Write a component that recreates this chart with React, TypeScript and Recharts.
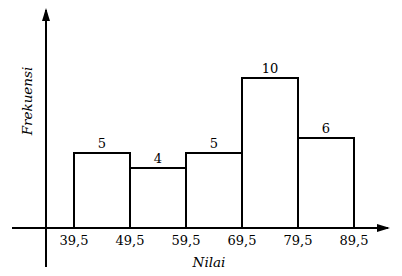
import { BarChart, Bar, XAxis, YAxis, ReferenceLine, LabelList, Label } from 'recharts';

// batas kelas (tepi bawah / atas) dan frekuensi tiap kelas
const boundaries = [39.5, 49.5, 59.5, 69.5, 79.5, 89.5];
const frequencies = [5, 4, 5, 10, 6];

const data = frequencies.map((f, i) => ({
  kelas: `${boundaries[i]}-${boundaries[i + 1]}`,
  tengah: (boundaries[i] + boundaries[i + 1]) / 2,
  frekuensi: f,
}));

const FONT = 'DejaVu Serif';
const fmt = (v: number) => String(v).replace('.', ',');

// judul sumbu tegak, digeser sedikit ke atas seperti gambar asli
const FrekuensiLabel = (props: any) => {
  const vb = props.viewBox || {};
  const x = vb.x + vb.width / 2 + 4;
  const y = vb.y + vb.height / 2 - 18;
  return (
    <text
      x={x}
      y={y}
      transform={`rotate(-90, ${x}, ${y})`}
      textAnchor="middle"
      dominantBaseline="central"
      fill="#000"
      fontSize={13.5}
      fontFamily={FONT}
      fontStyle="italic"
    >
      Frekuensi
    </text>
  );
};

export default function App() {
  return (
    <div style={{ width: 402, height: 276, background: '#fff' }}>
      <style>{`body{margin:0}`}</style>
      <BarChart
        width={402}
        height={276}
        data={data}
        barCategoryGap={0}
        margin={{ top: 10, right: 14, bottom: 0, left: 0 }}
      >
        <defs>
          <marker
            id="arrow"
            viewBox="0 0 13 8"
            refX={11}
            refY={4}
            markerWidth={13}
            markerHeight={8}
            markerUnits="userSpaceOnUse"
            orient="auto"
          >
            <path d="M0,0 L13,4 L0,8 z" fill="#000" />
          </marker>
        </defs>
        <XAxis
          xAxisId="cat"
          dataKey="kelas"
          hide
          height={0}
          orientation="top"
          padding={{ left: 28, right: 34 }}
        />
        <XAxis
          xAxisId="num"
          dataKey="tengah"
          type="number"
          domain={[34.5, 95.57]}
          allowDataOverflow
          ticks={boundaries}
          interval={0}
          tickFormatter={fmt}
          axisLine={false}
          tickLine={false}
          height={48}
          tick={{ fill: '#000', fontSize: 13, fontFamily: FONT }}
          label={{
            value: 'Nilai',
            position: 'insideBottom',
            offset: 9,
            dx: -8,
            fill: '#000',
            fontSize: 13.5,
            fontFamily: FONT,
            fontStyle: 'italic',
          }}
        />
        <YAxis
          domain={[0, 218 / 15]}
          allowDataOverflow
          width={46}
          axisLine={false}
          tickLine={false}
          tick={false}
        >
          <Label content={FrekuensiLabel} />
        </YAxis>
        <Bar
          xAxisId="cat"
          dataKey="frekuensi"
          fill="#fff"
          stroke="#000"
          strokeWidth={2}
          isAnimationActive={false}
        >
          <LabelList
            dataKey="frekuensi"
            position="top"
            offset={5}
            fill="#000"
            fontSize={13}
            fontFamily={FONT}
          />
        </Bar>
        <ReferenceLine
          xAxisId="num"
          segment={[
            { x: 28.43, y: 0 },
            { x: 95.57, y: 0 },
          ]}
          ifOverflow="visible"
          stroke="#000"
          strokeWidth={2}
          markerEnd="url(#arrow)"
        />
        <ReferenceLine
          xAxisId="num"
          segment={[
            { x: 34.5, y: -2.6 },
            { x: 34.5, y: 218 / 15 },
          ]}
          ifOverflow="visible"
          stroke="#000"
          strokeWidth={2}
          markerEnd="url(#arrow)"
        />
      </BarChart>
    </div>
  );
}
